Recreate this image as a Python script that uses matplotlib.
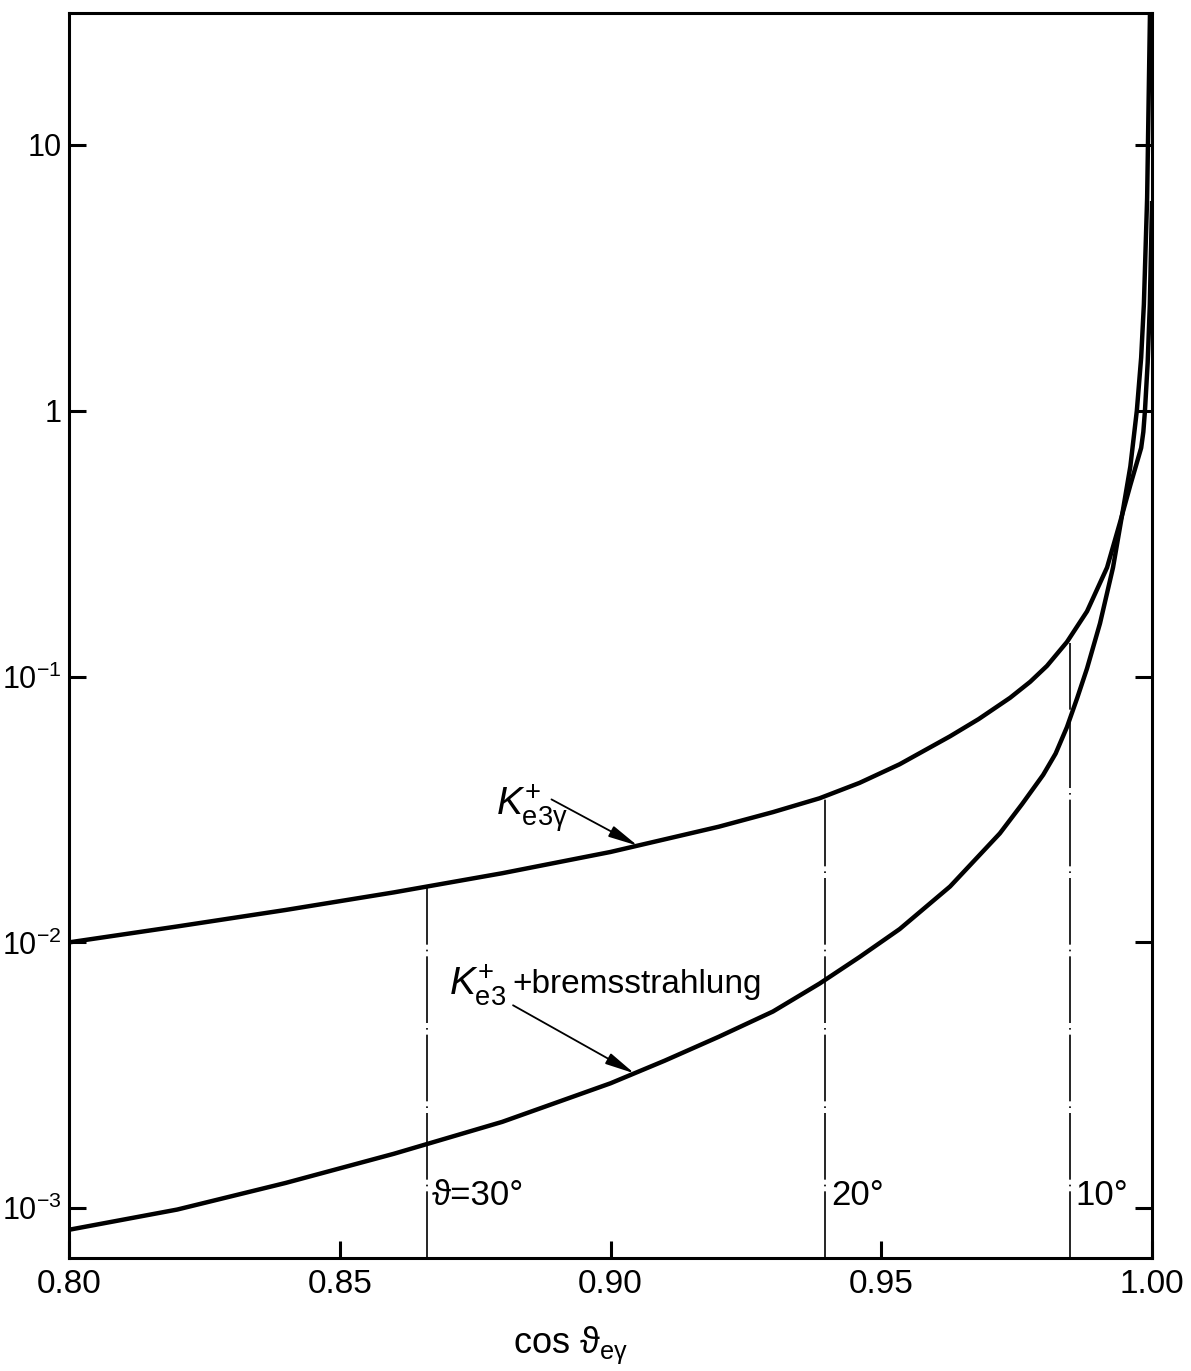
"""Angular distribution of K+ e3 gamma vs. K+ e3 + bremsstrahlung (log scale)."""

import numpy as np
import matplotlib

matplotlib.use("Agg")
import matplotlib.pyplot as plt
from matplotlib import font_manager

# --- data ---------------------------------------------------------------------
cos_ke3g = [0.800, 0.820, 0.840, 0.860, 0.880, 0.900, 0.920, 0.930, 0.9386,
            0.946, 0.9534, 0.9627, 0.968, 0.9738, 0.9775, 0.9806, 0.9843,
            0.988, 0.9917, 0.9941, 0.996, 0.998, 0.9984, 0.9987, 0.9992,
            0.9996, 1.000]
rate_ke3g = [0.0100, 0.01148, 0.01324, 0.01542, 0.01820, 0.02188, 0.02723, 0.03090,
             0.03483, 0.03981, 0.04677, 0.05957, 0.06918, 0.08318, 0.09550, 0.1096,
             0.1349, 0.1758, 0.2570, 0.3802, 0.5248, 0.7244, 0.8318, 1.0, 1.514,
             2.512, 6.026]

cos_brems = [0.800, 0.820, 0.840, 0.860, 0.880, 0.900, 0.910, 0.920, 0.930, 0.9386,
             0.946, 0.9534, 0.9627, 0.9719, 0.976, 0.9799, 0.9822, 0.9843, 0.9862,
             0.988, 0.9904, 0.9928, 0.9945, 0.996, 0.9972, 0.998, 0.9985, 0.9991,
             0.99963, 0.9999]
rate_brems = [8.30e-4, 9.89e-4, 1.245e-3, 1.603e-3, 2.113e-3, 2.951e-3, 3.589e-3,
              4.416e-3, 5.495e-3, 6.998e-3, 8.810e-3, 0.01122, 0.01622, 0.02570,
              0.03311, 0.04266, 0.05129, 0.06457, 0.08318, 0.1072, 0.1585, 0.2570,
              0.4074, 0.6166, 1.0, 1.585, 2.512, 6.310, 31.62, 100.0]

angles_deg = [30, 20, 10]
angle_labels = ["ϑ=30°", "20°", "10°"]

xticks = [0.80, 0.85, 0.90, 0.95, 1.00]
xtick_labels = ["0.80", "0.85", "0.90", "0.95", "1.00"]
yticks = [1e-3, 1e-2, 1e-1, 1, 10]
ytick_labels = [r"$\mathregular{10^{-3}}$", r"$\mathregular{10^{-2}}$",
                r"$\mathregular{10^{-1}}$", "1", "10"]

# --- fonts ---------------------------------------------------------------------
_names = {f.name for f in font_manager.fontManager.ttflist}
NARROW = "Liberation Sans Narrow" if "Liberation Sans Narrow" in _names else "Liberation Sans"
REGULAR = "Liberation Sans"

plt.rcParams["mathtext.fontset"] = "custom"
plt.rcParams["mathtext.rm"] = NARROW
plt.rcParams["mathtext.it"] = NARROW + ":italic"
plt.rcParams["mathtext.fallback"] = "stixsans"

W, H = 1191, 1371
fig = plt.figure(figsize=(W / 100, H / 100), dpi=100)
ax = fig.add_axes([69 / W, 1 - 1258 / H, (1152 - 69) / W, (1258 - 13) / H])

ax.set_yscale("log")
ax.set_xlim(0.80, 1.00)
ax.set_ylim(6.5e-4, 31.3)

ax.plot(cos_ke3g, rate_ke3g, color="black", lw=3.2, solid_joinstyle="round")
ax.plot(cos_brems, rate_brems, color="black", lw=3.2, solid_joinstyle="round")

# dash-dot markers at fixed opening angles, up to the K+e3gamma curve
log_up = np.log10(rate_ke3g)
for deg, label in zip(angles_deg, angle_labels):
    c = np.cos(np.radians(deg))
    top = 10 ** np.interp(c, cos_ke3g, log_up)
    ax.plot([c, c], [6.5e-4, top], color="black", lw=1.2, dashes=(40, 3, 1, 3))
    ax.annotate(label, (c, 1.03e-3), xytext=(4, 0), textcoords="offset points",
                ha="left", va="baseline", fontsize=25, family=[NARROW, "DejaVu Sans"])

# curve labels and arrows
arrow = dict(arrowstyle="-|>,head_length=0.9,head_width=0.18", lw=1.3,
             color="black", mutation_scale=20, shrinkA=0, shrinkB=0)
tip1 = 0.905
ax.annotate("", xy=(tip1, 10 ** np.interp(tip1, cos_ke3g, log_up)),
            xytext=(0.8891, 0.0345), arrowprops=arrow)
ax.text(0.8789, 0.0300, r"$K^{+}_{\mathrm{e3\gamma}}$", fontsize=28,
        ha="left", va="baseline")

tip2 = 0.9044
ax.annotate("", xy=(tip2, 10 ** np.interp(tip2, cos_brems, np.log10(rate_brems))),
            xytext=(0.8820, 5.8e-3), arrowprops=arrow)
ax.text(0.8702, 6.32e-3, r"$K^{+}_{\mathrm{e3}}$", fontsize=28,
        ha="left", va="baseline")
ax.text(0.8819, 6.43e-3, "+bremsstrahlung", fontsize=24, family=REGULAR,
        ha="left", va="baseline")

# axes frame and ticks
for s in ax.spines.values():
    s.set_linewidth(2.2)
ax.set_xticks(xticks)
ax.set_xticklabels(xtick_labels, fontsize=24, family=NARROW)
ax.set_yticks(yticks)
ax.set_yticklabels(ytick_labels, fontsize=22, family=NARROW)
ax.yaxis.set_minor_locator(matplotlib.ticker.NullLocator())
ax.tick_params(axis="both", which="major", direction="in", length=12, width=2.2)
ax.tick_params(axis="y", right=True, pad=5)
ax.tick_params(axis="x", top=False, pad=8)

ax.set_xlabel(r"$\mathrm{cos}\ \mathrm{ϑ}_{\mathrm{e\gamma}}$", fontsize=26)
ax.xaxis.set_label_coords((570 - 69) / (1152 - 69), (1258 - 1325) / (1258 - 13))

fig.savefig("out.png", dpi=100)
